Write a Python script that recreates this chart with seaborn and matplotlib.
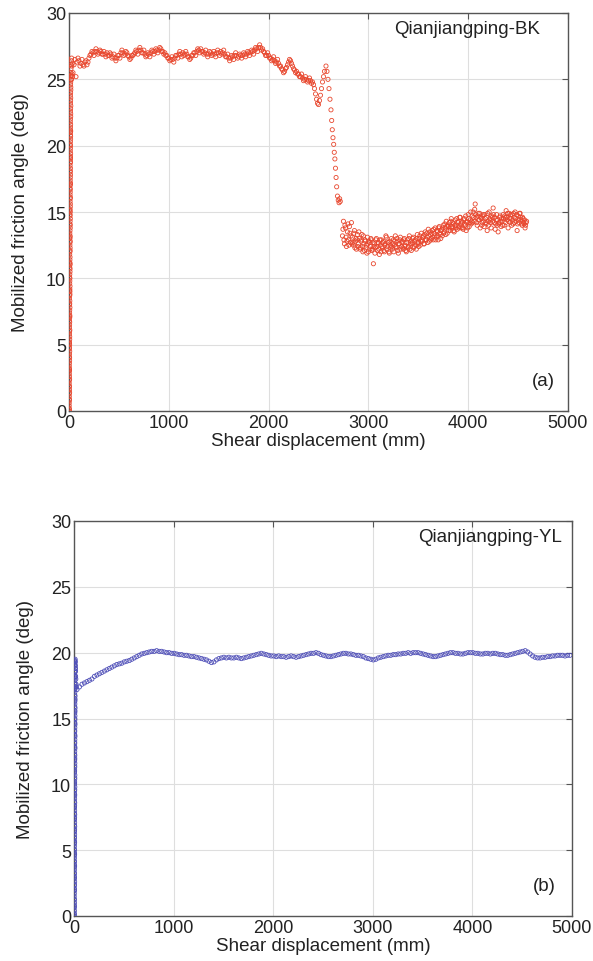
import numpy as np
import pandas as pd
import matplotlib
matplotlib.use("Agg")
import matplotlib.pyplot as plt
import seaborn as sns

# ---------------- Panel (a): Qianjiangping-BK ----------------
bk_rise_x = [2, 3, 2, 4, 3, 5, 4, 3, 5, 4,
             5, 4, 6, 5, 4, 6, 5, 7, 6, 5,
             7, 6, 8, 7, 6, 8, 7, 9, 8, 7,
             9, 8, 10, 9, 8, 10, 9, 11, 10, 9,
             11, 10, 12, 11, 10, 12, 11, 13, 12, 11,
             13, 12, 14, 13, 12, 14, 13, 15, 14, 13,
             15, 14, 16, 15, 14, 16, 15, 17, 16, 15,
             17, 16, 18, 17, 19, 18, 20, 22, 24, 26]
bk_rise_y = [0.0, 0.2, 0.6, 0.9, 1.3, 1.6, 1.9, 2.3, 2.6, 3.0,
             3.2, 3.6, 4.0, 4.3, 4.7, 5.0, 5.2, 5.6, 6.0, 6.3,
             6.7, 7.0, 7.2, 7.6, 8.0, 8.3, 8.7, 9.0, 9.2, 9.6,
             10.0, 10.3, 10.7, 11.0, 11.2, 11.6, 12.0, 12.3, 12.7, 13.0,
             13.2, 13.6, 14.0, 14.3, 14.7, 15.0, 15.2, 15.6, 16.0, 16.3,
             16.7, 17.0, 17.2, 17.6, 18.0, 18.3, 18.7, 19.0, 19.2, 19.6,
             20.0, 20.3, 20.7, 21.0, 21.2, 21.6, 22.0, 22.4, 22.8, 23.2,
             23.6, 24.0, 24.4, 24.8, 25.2, 25.5, 25.8, 26.1, 26.4, 26.6]
bk_rise2_x = [4, 2, 5, 3, 6, 4, 2, 6, 3, 5,
              3, 6, 4, 7, 5, 3, 7, 5, 8, 6,
              4, 8, 6, 9, 7, 5, 9, 7, 10, 8,
              6, 10, 8, 11, 9, 7, 11, 9, 12, 10,
              8, 12, 10, 13, 11, 9, 13, 11, 14, 12,
              10, 14, 12, 15, 13, 11, 15, 13, 16, 14,
              12, 16, 14, 17, 15, 13, 17, 15, 18, 16,
              14, 18, 16, 20, 22, 25, 28, 30, 33, 36]
bk_rise2_y = [0.1, 0.4, 0.8, 1.1, 1.4, 1.8, 2.1, 2.4, 2.8, 3.1,
              3.4, 3.8, 4.1, 4.5, 4.8, 5.1, 5.4, 5.8, 6.1, 6.5,
              6.8, 7.1, 7.4, 7.8, 8.1, 8.5, 8.8, 9.1, 9.4, 9.8,
              10.1, 10.5, 10.8, 11.1, 11.4, 11.8, 12.1, 12.5, 12.8, 13.1,
              13.4, 13.8, 14.1, 14.5, 14.8, 15.1, 15.4, 15.8, 16.1, 16.5,
              16.8, 17.1, 17.4, 17.8, 18.1, 18.5, 18.8, 19.1, 19.4, 19.8,
              20.1, 20.5, 20.8, 21.1, 21.4, 21.8, 22.2, 22.6, 23.0, 23.4,
              23.8, 24.2, 24.6, 25.0, 25.3, 25.0, 26.0, 25.4, 26.2, 25.2]

# plateau, sampled every 20 mm from 40 mm, and a second set offset by 10 mm
bk_plateau_start = 40
bk_plateau2_start = 50
bk_plateau_step = 20
bk_plateau_y = [25.5, 26.5, 26.3, 26.4, 26.2, 26.1, 26.3, 26.1, 26.6, 26.9,
                27.0, 27.1, 27.1, 27.0, 27.1, 26.9, 26.9, 27.0, 26.8, 26.9,
                26.7, 26.6, 26.6, 26.8, 27.0, 27.0, 26.9, 27.0, 26.7, 26.6,
                26.8, 27.0, 27.1, 27.2, 27.2, 27.0, 26.9, 26.8, 26.9, 27.0,
                27.1, 27.1, 27.2, 27.2, 27.3, 27.1, 27.0, 26.8, 26.6, 26.5,
                26.5, 26.6, 26.8, 26.9, 26.9, 27.0, 26.9, 26.9, 26.7, 26.6,
                26.8, 27.0, 27.1, 27.2, 27.3, 27.1, 27.0, 26.9, 26.9, 27.0,
                26.9, 26.9, 27.0, 27.0, 27.1, 27.0, 26.9, 26.7, 26.6, 26.6,
                26.7, 26.8, 26.8, 26.7, 26.8, 26.8, 26.9, 26.9, 27.0, 27.0,
                27.1, 27.2, 27.3, 27.4, 27.4, 27.3, 27.0, 26.8, 26.8, 26.6,
                26.5, 26.4, 26.3, 26.2, 26.0, 25.7, 25.6, 25.9, 26.3, 26.4,
                26.0, 25.7, 25.6, 25.4, 25.2, 25.1, 25.0, 25.0, 24.9, 24.9,
                24.8, 24.3, 23.5, 23.1, 23.8, 24.8, 25.6]
bk_plateau2_y = [26.1, 25.2, 26.6, 26.0, 26.5, 26.0, 26.4, 26.3, 26.8, 27.1,
                 26.8, 27.3, 26.9, 27.2, 26.9, 27.1, 26.7, 26.8, 27.0, 26.6,
                 26.9, 26.4, 26.8, 26.6, 27.2, 26.8, 27.1, 26.8, 26.5, 26.8,
                 26.9, 27.2, 26.9, 27.4, 27.0, 27.2, 26.7, 27.0, 26.7, 27.2,
                 26.9, 27.3, 27.0, 27.4, 27.1, 26.9, 26.8, 26.6, 26.4, 26.7,
                 26.3, 26.8, 26.6, 27.1, 26.7, 26.8, 27.1, 26.7, 26.5, 26.8,
                 27.0, 26.8, 27.3, 27.0, 27.1, 26.9, 27.2, 26.7, 27.1, 26.8,
                 27.1, 26.7, 27.2, 26.8, 26.9, 27.2, 26.7, 26.9, 26.4, 26.8,
                 26.5, 27.0, 26.6, 26.9, 26.6, 27.0, 26.7, 27.1, 26.8, 27.2,
                 26.9, 27.4, 27.1, 27.6, 27.2, 27.1, 26.8, 27.0, 26.6, 26.4,
                 26.7, 26.2, 26.5, 26.0, 25.8, 25.5, 25.8, 26.1, 26.5, 26.2,
                 25.8, 25.5, 25.4, 25.2, 25.4, 24.9, 25.2, 24.8, 25.1, 24.7,
                 24.6, 23.9, 23.2, 23.4, 24.3, 25.2]

bk_drop_x = [2575, 2585, 2595, 2605, 2615, 2625, 2632, 2638, 2645, 2652,
             2658, 2664, 2670, 2676, 2682, 2690, 2698, 2706, 2712, 2718]
bk_drop_y = [26.0, 25.6, 25.0, 24.3, 23.5, 22.7, 21.9, 21.2, 20.6, 20.1,
             19.5, 19.0, 18.3, 17.6, 16.9, 16.2, 15.9, 15.7, 16.0, 15.8]

# residual part, sampled every 10 mm from 2740 mm, and a second set offset by 5 mm
bk_tail_start = 2740
bk_tail2_start = 2745
bk_tail_step = 10
bk_tail_y = [13.2, 14.3, 12.6, 13.8, 12.4, 13.5, 12.9, 13.9, 12.7, 14.2,
             13.1, 12.5, 13.6, 12.8, 12.2, 13.3, 12.6, 13.0, 12.3, 12.9,
             12.4, 13.2, 12.1, 12.8, 12.5, 13.1, 12.0, 12.7, 12.4, 12.9,
             12.2, 11.1, 12.6, 12.3, 13.0, 12.1, 12.7, 11.8, 12.5, 12.9,
             12.3, 12.8, 12.0, 12.6, 13.1, 12.4, 12.7, 11.9, 12.5, 13.0,
             12.2, 12.9, 12.5, 13.2, 12.3, 12.8, 11.9, 12.6, 13.1, 12.4,
             12.8, 12.2, 13.0, 12.5, 12.0, 12.9, 12.4, 13.2, 12.6, 12.1,
             12.7, 13.1, 12.4, 12.9, 12.2, 13.3, 12.6, 13.0, 12.5, 13.4,
             12.8, 13.2, 12.6, 13.5, 12.9, 13.1, 13.7, 12.8, 13.3, 13.0,
             13.6, 12.9, 13.4, 13.8, 13.1, 13.5, 12.9, 13.9, 13.3, 13.6,
             13.2, 14.0, 13.5, 13.8, 14.3, 13.4, 13.9, 14.2, 13.6, 14.5,
             13.8, 14.1, 13.5, 14.4, 14.0, 13.7, 14.3, 13.9, 14.6, 13.8,
             14.2, 13.7, 14.5, 14.0, 13.6, 14.3, 14.8, 13.9, 14.4, 14.1,
             14.7, 15.0, 14.3, 15.6, 14.6, 14.0, 14.9, 14.4, 13.8, 14.5,
             14.2, 14.8, 13.9, 14.5, 14.1, 13.6, 14.3, 15.0, 14.4, 13.8,
             14.6, 15.3, 14.2, 13.7, 14.4, 14.0, 13.5, 14.2, 14.7, 13.9,
             14.3, 14.8, 14.0, 14.6, 15.1, 14.4, 13.8, 14.9, 14.2, 14.5,
             14.8, 14.1, 14.6, 15.0, 14.3, 13.6, 14.7, 14.2, 14.9, 14.4,
             14.0, 14.5, 14.1, 13.8, 14.2]
bk_tail2_y = [13.7, 12.9, 14.0, 13.1, 12.8, 14.1, 12.5, 13.4, 13.2, 12.6,
              12.7, 13.4, 12.3, 13.0, 12.9, 12.4, 13.5, 12.2, 12.8, 13.3,
              12.0, 12.6, 12.9, 12.3, 11.9, 12.6, 12.8, 12.2, 13.0, 12.1,
              12.7, 12.4, 11.9, 12.9, 12.4, 12.6, 12.2, 12.9, 12.0, 12.4,
              12.7, 12.1, 12.5, 13.2, 12.2, 12.7, 12.0, 12.8, 12.3, 12.4,
              12.6, 12.0, 12.8, 12.4, 13.0, 12.1, 12.6, 12.9, 12.2, 12.7,
              12.3, 12.9, 12.4, 12.1, 12.7, 12.3, 13.0, 12.2, 12.8, 12.6,
              13.0, 12.3, 12.8, 12.5, 13.0, 12.7, 12.4, 13.2, 12.8, 12.9,
              13.1, 12.6, 13.3, 12.9, 13.4, 12.7, 13.2, 13.5, 12.9, 13.4,
              13.1, 13.7, 13.2, 12.9, 13.6, 13.2, 13.8, 13.4, 13.0, 13.7,
              13.8, 13.4, 14.1, 13.3, 13.9, 14.0, 13.6, 13.8, 14.3, 13.9,
              14.2, 13.6, 14.0, 13.8, 14.5, 14.2, 13.8, 14.6, 14.1, 14.3,
              13.8, 14.4, 14.1, 14.7, 14.2, 13.8, 14.5, 14.2, 15.0, 14.3,
              14.2, 14.6, 15.2, 14.8, 14.2, 14.7, 14.4, 14.9, 14.6, 14.0,
              14.7, 14.3, 14.8, 14.2, 14.6, 14.9, 14.0, 14.5, 14.2, 14.7,
              14.3, 14.8, 14.6, 14.1, 14.8, 14.4, 14.1, 14.6, 14.3, 14.5,
              14.0, 14.5, 14.7, 14.2, 14.6, 14.9, 14.3, 14.5, 14.8, 14.0,
              14.4, 14.9, 14.2, 14.5, 14.8, 14.1, 14.4, 14.9, 14.6, 14.1,
              14.6, 14.2, 14.4, 14.0, 14.3]

# ---------------- Panel (b): Qianjiangping-YL ----------------
yl_rise_x = [2, 3, 2, 4, 3, 2, 4, 3, 5, 3,
             4, 3, 5, 4, 3, 5, 4, 3, 5, 4,
             5, 4, 6, 5, 4, 6, 5, 4, 6, 5,
             6, 5, 7, 5, 6, 7, 5, 6, 7, 6,
             7, 6, 8, 6, 7, 8, 6, 7, 8, 7,
             8, 7, 9, 7, 8, 9, 7, 8, 9, 8,
             9, 8, 10, 9, 8, 10, 12, 13, 15, 18]
yl_rise_y = [0.0, 0.2, 0.6, 0.8, 1.2, 1.5, 1.9, 2.1, 2.4, 2.8,
             3.0, 3.3, 3.7, 3.9, 4.2, 4.6, 4.8, 5.1, 5.5, 5.7,
             6.0, 6.4, 6.6, 6.9, 7.3, 7.5, 7.8, 8.2, 8.4, 8.7,
             9.1, 9.3, 9.6, 10.0, 10.2, 10.5, 10.9, 11.1, 11.4, 11.8,
             12.0, 12.3, 12.7, 12.9, 13.2, 13.6, 13.8, 14.1, 14.5, 14.7,
             15.0, 15.4, 15.6, 15.9, 16.3, 16.5, 16.8, 17.2, 17.4, 17.7,
             18.1, 18.3, 18.6, 19.0, 19.2, 19.4, 19.3, 19.0, 18.6, 18.0]
yl_rise2_x = [3, 4, 3, 5, 4, 3, 5, 4, 6, 4,
              5, 4, 6, 5, 4, 6, 5, 4, 6, 5,
              6, 5, 7, 6, 5, 7, 6, 5, 7, 6,
              7, 6, 8, 6, 7, 8, 6, 7, 8, 7,
              8, 7, 9, 7, 8, 9, 7, 8, 9, 8,
              9, 8, 10, 8, 9, 10, 8, 9, 10, 9,
              10, 9, 11, 10, 9, 11, 14, 16, 20, 24]
yl_rise2_y = [0.1, 0.4, 0.7, 1.0, 1.3, 1.7, 2.0, 2.3, 2.6, 2.9,
              3.2, 3.5, 3.8, 4.1, 4.4, 4.7, 5.0, 5.3, 5.6, 5.9,
              6.2, 6.5, 6.8, 7.1, 7.4, 7.7, 8.0, 8.3, 8.6, 8.9,
              9.2, 9.5, 9.8, 10.1, 10.4, 10.7, 11.0, 11.3, 11.6, 11.9,
              12.2, 12.5, 12.8, 13.1, 13.4, 13.7, 14.0, 14.3, 14.6, 14.9,
              15.2, 15.5, 15.8, 16.1, 16.4, 16.7, 17.0, 17.3, 17.6, 17.9,
              18.2, 18.5, 18.8, 19.1, 19.3, 19.5, 18.8, 18.2, 17.6, 17.4]

# curve, sampled every 25 mm from 30 mm
yl_curve_start = 30
yl_curve_step = 25
yl_curve_y = [17.2, 17.4, 17.6, 17.7, 17.8, 17.9, 18.0, 18.2,
              18.3, 18.4, 18.5, 18.6, 18.7, 18.8, 18.9, 19.0,
              19.1, 19.15, 19.2, 19.3, 19.35, 19.4, 19.5, 19.6,
              19.7, 19.8, 19.9, 19.95, 20.0, 20.05, 20.1, 20.1,
              20.15, 20.1, 20.1, 20.05, 20.0, 20.0, 19.95, 19.95,
              19.9, 19.85, 19.85, 19.8, 19.8, 19.75, 19.7, 19.7,
              19.65, 19.6, 19.55, 19.5, 19.45, 19.35, 19.25, 19.3,
              19.45, 19.55, 19.6, 19.65, 19.6, 19.65, 19.6, 19.6,
              19.65, 19.6, 19.55, 19.6, 19.65, 19.7, 19.75, 19.8,
              19.85, 19.9, 19.95, 19.9, 19.85, 19.8, 19.75, 19.75,
              19.7, 19.75, 19.7, 19.7, 19.65, 19.7, 19.75, 19.7,
              19.65, 19.7, 19.75, 19.8, 19.85, 19.9, 19.95, 19.95,
              20.0, 19.95, 19.85, 19.8, 19.75, 19.7, 19.7, 19.75,
              19.8, 19.85, 19.9, 19.95, 19.95, 19.9, 19.9, 19.85,
              19.8, 19.8, 19.75, 19.7, 19.6, 19.55, 19.5, 19.45,
              19.5, 19.6, 19.65, 19.7, 19.75, 19.8, 19.8, 19.85,
              19.85, 19.9, 19.9, 19.95, 19.95, 20.0, 19.95, 20.0,
              20.0, 20.0, 19.95, 19.9, 19.85, 19.8, 19.75, 19.7,
              19.7, 19.75, 19.8, 19.85, 19.9, 19.95, 20.0, 20.0,
              19.95, 19.95, 19.9, 19.9, 19.95, 20.0, 20.0, 20.0,
              19.95, 19.95, 19.9, 19.9, 19.95, 19.95, 19.9, 19.95,
              19.95, 19.9, 19.85, 19.85, 19.8, 19.8, 19.85, 19.9,
              19.95, 20.0, 20.05, 20.1, 20.15, 20.05, 19.9, 19.75,
              19.65, 19.6, 19.6, 19.65, 19.65, 19.7, 19.7, 19.75,
              19.75, 19.8, 19.8, 19.8, 19.75, 19.8, 19.8]

x_ticks = [0, 1000, 2000, 3000, 4000, 5000]
y_ticks = [0, 5, 10, 15, 20, 25, 30]
x_label = "Shear displacement (mm)"
y_label = "Mobilized friction angle (deg)"
titles = ["Qianjiangping-BK", "Qianjiangping-YL"]
tags = ["(a)", "(b)"]
colors = ["#e8472e", "#5050b8"]


def sampled(start, step, vals):
    return [start + step * i for i in range(len(vals))]


bk = pd.DataFrame({
    "x": bk_rise_x + bk_rise2_x
         + sampled(bk_plateau_start, bk_plateau_step, bk_plateau_y)
         + sampled(bk_plateau2_start, bk_plateau_step, bk_plateau2_y)
         + bk_drop_x
         + sampled(bk_tail_start, bk_tail_step, bk_tail_y)
         + sampled(bk_tail2_start, bk_tail_step, bk_tail2_y),
    "y": bk_rise_y + bk_rise2_y + bk_plateau_y + bk_plateau2_y + bk_drop_y
         + bk_tail_y + bk_tail2_y,
})
yl = pd.DataFrame({
    "x": yl_rise_x + yl_rise2_x + sampled(yl_curve_start, yl_curve_step, yl_curve_y),
    "y": yl_rise_y + yl_rise2_y + yl_curve_y,
})

sns.set_style("white")
plt.rcParams['font.family'] = ['Liberation Sans', 'DejaVu Sans']
plt.rcParams['font.size'] = 13

W, H = 593, 962
fig = plt.figure(figsize=(W / 100, H / 100), dpi=100)


def add_axes(l, r, t, b):
    return fig.add_axes([l / W, 1 - b / H, (r - l) / W, (b - t) / H])


axes = [add_axes(69, 568, 14, 412), add_axes(74, 572, 522, 917)]
title_x = [4720, 4900]
tag_x = [4870, 4840]

for i, (ax, df, col) in enumerate(zip(axes, [bk, yl], colors)):
    sns.scatterplot(data=df, x="x", y="y", ax=ax, marker="o", s=9,
                    facecolors="none", edgecolor=col, linewidth=0.6,
                    legend=False, zorder=3)
    ax.set_xlim(0, 5000)
    ax.set_ylim(0, 30)
    ax.set_xticks(x_ticks)
    ax.set_yticks(y_ticks)
    ax.grid(True, color="#dedede", linewidth=0.8, zorder=0)
    ax.set_axisbelow(True)
    ax.tick_params(direction="in", top=True, right=True, length=4,
                   width=0.8, color="#555555", labelcolor="#222222",
                   labelsize=13, pad=2)
    for sp in ax.spines.values():
        sp.set_color("#555555")
        sp.set_linewidth(1.0)
    ax.set_xlabel(x_label, fontsize=13.5, color="#222222", labelpad=1)
    ax.set_ylabel(y_label, fontsize=13.5, color="#222222", labelpad=12)
    ax.text(title_x[i], 28.8, titles[i], ha="right", va="center",
            fontsize=13.5, color="#222222")
    ax.text(tag_x[i], 2.3, tags[i], ha="right", va="center",
            fontsize=13.5, color="#222222")

fig.savefig("out.png", dpi=100, facecolor="white")
